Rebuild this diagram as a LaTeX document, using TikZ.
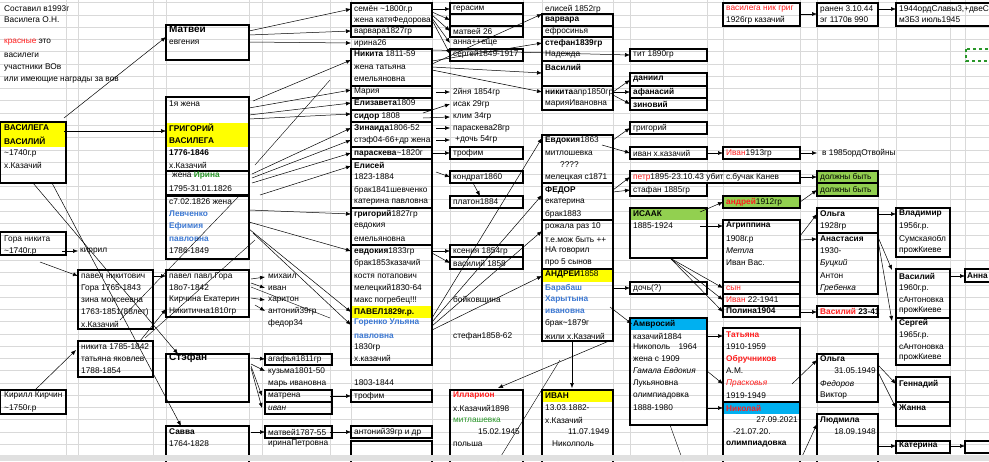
\documentclass[tikz,border=0pt]{standalone}
\usepackage{fontspec}
\setmainfont{Liberation Sans}
\usetikzlibrary{arrows.meta}
\definecolor{xred}{RGB}{255,30,30}
\definecolor{xblue}{RGB}{60,120,210}
\definecolor{xgreen}{RGB}{40,150,40}
\definecolor{xyel}{RGB}{255,255,0}
\definecolor{xlg}{RGB}{146,208,80}
\definecolor{xcy}{RGB}{0,176,240}
\tikzset{
 tx/.style={anchor=west,inner sep=0pt,font=\fontsize{8.3}{9}\selectfont},
 bx/.style={draw=black,line width=1.1pt},
 ar/.style={-{Latex[length=5pt,width=4pt]},line width=0.5pt},
 grid/.style={draw=black!15,line width=0.4pt}
}
\newcommand{\tx}[4][]{\node[tx,#1] at (#2,#3) {#4};}
\begin{document}
\begin{tikzpicture}[x=1pt,y=-1pt]
\useasboundingbox (0,0) rectangle (989,461);
\fill[white] (0,0) rectangle (989,461);
% grid
\foreach \i in {0,...,37} {\draw[grid] (0,2.5+\i*12.27) -- (989,2.5+\i*12.27);}
\foreach \x in {66,78,153,166,249,262,330,351,432,450,523,542,613,630,707,723,800,817,878,896,950,965} {\draw[grid] (\x,0) -- (\x,461);}
% fills
\fill[xyel] (0,122) rectangle (66,147);
\fill[xyel] (166,123) rectangle (249,147);
\fill[xyel] (351,306) rectangle (432,318);
\fill[xyel] (542,269) rectangle (613,282);
\fill[xyel] (542,390) rectangle (613,402);
\fill[xlg] (630,208) rectangle (707,220);
\fill[xlg] (723,196) rectangle (800,208);
\fill[xlg] (817,171) rectangle (878,183);
\fill[xlg] (817,183) rectangle (878,196);
\fill[xcy] (630,318) rectangle (707,330);
\fill[xcy] (723,402) rectangle (800,414);
% boxes
\draw[bx] (0,122) rectangle (66,183);
\draw[bx] (166,25) rectangle (249,60);
\draw[bx] (166,97) rectangle (249,171);
\draw[bx] (166,171) rectangle (249,195);
\draw[bx] (166,196) rectangle (249,259);
\draw[bx] (0,232) rectangle (66,255);
\draw[bx] (78,270) rectangle (153,329);
\draw[bx] (166,270) rectangle (249,317);
\draw[bx] (78,341) rectangle (153,377);
\draw[bx] (0,390) rectangle (66,414);
\draw[bx] (166,354) rectangle (249,402);
\draw[bx] (166,426) rectangle (249,465);
\draw[bx] (265,354) rectangle (332,365);
\draw[bx] (265,390) rectangle (332,402);
\draw[bx] (265,402) rectangle (332,414);
\draw[bx] (265,426) rectangle (332,438);
\draw[bx] (351,390) rectangle (432,402);
\draw[bx] (351,426) rectangle (432,438);
\draw[bx] (351,441) rectangle (432,465);
% col 3
\draw[bx] (351,3) rectangle (432,26);
\draw[bx] (351,26) rectangle (432,37);
\draw[bx] (351,49) rectangle (432,86);
\draw[bx] (351,86) rectangle (432,98);
\draw[bx] (351,98) rectangle (432,110);
\draw[bx] (351,110) rectangle (432,122);
\draw[bx] (351,122) rectangle (432,147);
\draw[bx] (351,147) rectangle (432,159);
\draw[bx] (351,159) rectangle (432,208);
\draw[bx] (351,208) rectangle (432,245);
\draw[bx] (351,245) rectangle (432,365);
% col 4
\draw[bx] (450,3) rectangle (523,14);
\draw[bx] (450,14) rectangle (523,26);
\draw[bx] (450,26) rectangle (523,37);
\draw[bx] (450,49) rectangle (523,61);
\draw[bx] (450,147) rectangle (523,159);
\draw[bx] (450,171) rectangle (523,183);
\draw[bx] (450,196) rectangle (523,208);
\draw[bx] (450,245) rectangle (523,257);
\draw[bx] (450,257) rectangle (523,269);
\draw[bx] (450,390) rectangle (523,465);
% col 5
\draw[bx] (542,14) rectangle (613,26);
\draw[bx] (542,26) rectangle (613,37);
\draw[bx] (542,37) rectangle (613,61);
\draw[bx] (542,61) rectangle (613,86);
\draw[bx] (542,86) rectangle (613,110);
\draw[bx] (542,135) rectangle (613,183);
\draw[bx] (542,183) rectangle (613,220);
\draw[bx] (542,220) rectangle (613,269);
\draw[bx] (542,269) rectangle (613,341);
\draw[bx] (542,390) rectangle (613,465);
% col 6
\draw[bx] (630,49) rectangle (707,61);
\draw[bx] (630,73) rectangle (707,86);
\draw[bx] (630,86) rectangle (707,98);
\draw[bx] (630,98) rectangle (707,110);
\draw[bx] (630,122) rectangle (707,134);
\draw[bx] (630,147) rectangle (707,159);
\draw[bx] (630,171) rectangle (800,183);
\draw[bx] (630,183) rectangle (707,196);
\draw[bx] (630,208) rectangle (707,258);
\draw[bx] (630,282) rectangle (707,294);
\draw[bx] (630,318) rectangle (707,425);
% col 7
\draw[bx] (723,3) rectangle (800,26);
\draw[bx] (723,147) rectangle (800,159);
\draw[bx] (723,196) rectangle (800,208);
\draw[bx] (723,220) rectangle (800,282);
\draw[bx] (723,282) rectangle (800,294);
\draw[bx] (723,294) rectangle (800,306);
\draw[bx] (723,306) rectangle (800,317);
\draw[bx] (723,328) rectangle (800,402);
\draw[bx] (723,402) rectangle (800,465);
% col 8
\draw[bx] (817,3) rectangle (878,26);
\draw[bx] (817,171) rectangle (878,183);
\draw[bx] (817,183) rectangle (878,196);
\draw[bx] (817,208) rectangle (878,233);
\draw[bx] (817,233) rectangle (878,294);
\draw[bx] (817,306) rectangle (878,317);
\draw[bx] (817,354) rectangle (878,402);
\draw[bx] (817,414) rectangle (878,465);
% col 9
\draw[bx] (896,3) rectangle (992,26);
\draw[bx] (896,208) rectangle (950,257);
\draw[bx] (896,269) rectangle (950,318);
\draw[bx] (896,318) rectangle (950,365);
\draw[bx] (896,377) rectangle (950,402);
\draw[bx] (896,402) rectangle (950,426);
\draw[bx] (896,441) rectangle (950,453);
\draw[bx] (965,269) rectangle (992,282);
\draw[bx] (965,441) rectangle (992,453);
\draw[draw=xgreen,dashed,line width=1.2pt] (966,49) rectangle (992,61);
% texts col 1
\tx{4}{9}{Составил в1993г}
\tx{4}{20}{Василега О.Н.}
\tx{4}{42}{\textcolor{xred}{красные} это}
\tx{4}{55}{василеги}
\tx{4}{67}{участники ВОв}
\tx{4}{80}{или имеющие награды за вов}
\tx{4}{128}{\textbf{ВАСИЛЕГА}}
\tx{4}{141}{\textbf{ВАСИЛИЙ}}
\tx{4}{153}{\textasciitilde1740г.р}
\tx{4}{165}{х.Казачий}
\tx{4}{239}{Гора никита}
\tx{4}{251}{\textasciitilde1740г.р}
\tx{80}{251}{киррил}
\tx{4}{396}{Кирилл Кирчин}
\tx{4}{408}{\textasciitilde1750г.р}
\tx{81}{276}{павел никитович}
\tx{81}{288}{Гора 1765-1843}
\tx{81}{300}{зина моисеевна}
\tx{81}{312}{1763-1851(88лет)}
\tx{81}{324}{х.Казачий}
\tx{81}{347}{никита 1785-1842}
\tx{81}{359}{татьяна яковлев}
\tx{81}{371}{1788-1854}
% col 2
\tx[font=\fontsize{10}{10}\selectfont\bfseries]{169}{29}{Матвей}
\tx{169}{42}{евгения}
\tx{169}{104}{1я жена}
\tx{169}{128}{\textbf{ГРИГОРИЙ}}
\tx{169}{141}{\textbf{ВАСИЛЕГА}}
\tx{169}{153}{\textbf{1776-1846}}
\tx{169}{165}{х.Казачий}
\tx{172}{176}{жена \textcolor{xgreen}{\textbf{Ирина}}}
\tx{169}{189}{1795-31.01.1826}
\tx{169}{202}{с7.02.1826 жена}
\tx{169}{214}{\textcolor{xblue}{\textbf{Левченко}}}
\tx{169}{226}{\textcolor{xblue}{\textbf{Ефимия}}}
\tx{169}{239}{\textcolor{xblue}{\textbf{павловна}}}
\tx{169}{251}{1786-1849}
\tx{169}{276}{павел павл.Гора}
\tx{169}{288}{18о7-1842}
\tx{169}{300}{Кирчина Екатерин}
\tx{169}{311}{Никитична1810гр}
\tx[font=\fontsize{10}{10}\selectfont\bfseries]{169}{358}{Стэфан}
\tx{169}{432}{\textbf{Савва}}
\tx{169}{444}{1764-1828}
\tx{268}{276}{михаил}
\tx{268}{288}{иван}
\tx{268}{300}{харитон}
\tx{268}{311}{антоний39гр}
\tx{268}{323}{федор34}
\tx{268}{359}{агафья1811гр}
\tx{268}{371}{кузьма1801-50}
\tx{268}{384}{марь ивановна}
\tx{268}{396}{матрена}
\tx{268}{408}{\itshape иван}
\tx{268}{432}{матвей1787-55}
\tx{268}{444}{иринаПетровна}
% col 3
\tx{354}{9}{семён \textasciitilde1800г.р}
\tx{354}{20}{жена катяФедорова}
\tx{354}{31}{варвара1827гр}
\tx{354}{43}{ирина26}
\tx{354}{54}{\textbf{Никита} 1811-59}
\tx{354}{67}{жена татьяна}
\tx{354}{79}{емельяновна}
\tx{354}{92}{Мария}
\tx{354}{103}{\textbf{Елизавета}1809}
\tx{354}{116}{\textbf{сидор} 1808}
\tx{354}{128}{\textbf{Зинаида}1806-52}
\tx{354}{140}{стэф04-66+др жена}
\tx{354}{153}{\textbf{параскева}\textasciitilde1820г}
\tx{354}{165}{\textbf{Елисей}}
\tx{354}{177}{1823-1884}
\tx{354}{190}{брак1841шевченко}
\tx{354}{202}{катерина павловна}
\tx{354}{214}{\textbf{григорий}1827гр}
\tx{354}{226}{евдокия}
\tx{354}{239}{емельяновна}
\tx{354}{251}{\textbf{евдокия}1833гр}
\tx{354}{263}{брак1853казачий}
\tx{354}{276}{костя потапович}
\tx{354}{288}{мелецкий1830-64}
\tx{354}{300}{макс погребец!!!}
\tx{354}{312}{\textbf{ПАВЕЛ1829г.р.}}
\tx{354}{323}{\textcolor{xblue}{\textbf{Горенко Ульяна}}}
\tx{354}{336}{\textcolor{xblue}{\textbf{павловна}}}
\tx{354}{347}{1830гр}
\tx{354}{358}{х.казачий}
\tx{354}{383}{1803-1844}
\tx{354}{396}{трофим}
\tx{354}{432}{антоний39гр и др}
% col 4
\tx{453}{9}{герасим}
\tx{453}{31}{матвей 26}
\tx{453}{43}{анна++еще}
\tx{453}{54}{сергей1849-1917}
\tx{453}{92}{2йня 1854гр}
\tx{453}{104}{исак 29гр}
\tx{453}{116}{клим 34гр}
\tx{453}{128}{параскева28гр}
\tx{455}{140}{+дочь 54гр}
\tx{453}{153}{трофим}
\tx{453}{177}{кондрат1860}
\tx{453}{202}{платон1884}
\tx{453}{251}{ксения 1854гр}
\tx{453}{263}{василий 1858}
\tx{453}{300}{бойковщина}
\tx{453}{336}{стефан1858-62}
\tx{453}{396}{\textcolor{xred}{\textbf{Илларион}}}
\tx{453}{408}{х.Казачий1898}
\tx{453}{420}{\textcolor{xgreen}{митлашевка}}
\tx{478}{432}{15.02.1945}
\tx{453}{444}{польша}
% col 5
\tx{545}{9}{елисей 1852гр}
\tx{545}{20}{\textbf{варвара}}
\tx{545}{31}{ефросинья}
\tx{545}{43}{\textbf{стефан1839гр}}
\tx{545}{54}{Надежда}
\tx{545}{67}{\textbf{Василий}}
\tx{545}{92}{\textbf{никита}апр1850гр}
\tx{545}{104}{марияИвановна}
\tx{545}{140}{\textbf{Евдокия}1863}
\tx{545}{153}{митлошевка}
\tx{560}{165}{????}
\tx{545}{177}{мелецкая с1871}
\tx{545}{190}{\textbf{ФЕДОР}}
\tx{545}{202}{екатерина}
\tx{545}{214}{брак1883}
\tx{545}{226}{рожала раз 10}
\tx{545}{239}{т.е.мож быть ++}
\tx{545}{251}{НА говорил}
\tx{545}{263}{про 5 сынов}
\tx{545}{274}{\textbf{АНДРЕЙ}1858}
\tx{545}{288}{\textcolor{xblue}{\textbf{Барабаш}}}
\tx{545}{300}{\textcolor{xblue}{\textbf{Харытына}}}
\tx{545}{311}{\textcolor{xblue}{\textbf{ивановна}}}
\tx{545}{323}{брак\textasciitilde1879г}
\tx{545}{336}{жили х.Казачий}
\tx{545}{396}{\textbf{ИВАН}}
\tx{545}{408}{13.03.1882-}
\tx{545}{420}{х.Казачий}
\tx{568}{432}{11.07.1949}
\tx{552}{444}{Николполь}
% col 6
\tx{633}{54}{тит 1890гр}
\tx{633}{79}{\textbf{даниил}}
\tx{633}{92}{\textbf{афанасий}}
\tx{633}{104}{\textbf{зиновий}}
\tx{633}{128}{григорий}
\tx{633}{153}{иван х.казачий}
\tx{633}{177}{\textcolor{xred}{петр}1895-23.10.43 убит с.бучак Канев}
\tx{633}{190}{стафан 1885гр}
\tx{633}{214}{\textbf{ИСААК}}
\tx{633}{226}{1885-1924}
\tx{633}{288}{дочь(?)}
\tx{633}{324}{\textbf{Амвросий}}
\tx{633}{336}{казачий1884}
\tx{633}{347}{Никополь\quad 1964}
\tx{633}{359}{жена с 1909}
\tx{633}{371}{\itshape Гамала Евдокия}
\tx{633}{384}{Лукьяновна}
\tx{633}{396}{олимпиадовка}
\tx{633}{408}{1888-1980}
% col 7
\tx{726}{9}{\textcolor{xred}{василега ник григ}}
\tx{726}{20}{1926гр казачий}
\tx{726}{153}{\textcolor{xred}{Иван}1913гр}
\tx{726}{202}{\textcolor{xred}{\textbf{андрей}}1912гр}
\tx{726}{226}{\textbf{Агриппина}}
\tx{726}{239}{1908г.р}
\tx{726}{251}{\itshape Метла}
\tx{726}{263}{Иван Вас.}
\tx{726}{288}{\textcolor{xred}{сын}}
\tx{726}{300}{\textcolor{xred}{Иван} 22-1941}
\tx{726}{311}{\textbf{Полина1904}}
\tx{726}{335}{\textcolor{xred}{\textbf{Татьяна}}}
\tx{726}{347}{1910-1959}
\tx{726}{359}{\textcolor{xred}{\textbf{Обручников}}}
\tx{726}{371}{А.М.}
\tx{726}{384}{\textcolor{xred}{\itshape Прасковья}}
\tx{726}{396}{1919-1949}
\tx{726}{408}{\textcolor{xred}{\textbf{Николай}}}
\tx[anchor=east]{798}{420}{27.09.2021}
\tx{733}{432}{-21.07.20.}
\tx{726}{444}{\textbf{олимпиадовка}}
% col 8
\tx{820}{9}{ранен 3.10.44}
\tx{820}{20}{эг 1170в 990}
\tx{822}{153}{в 1985ордОтвойны}
\tx{820}{177}{должны быть}
\tx{820}{190}{должны быть}
\tx{820}{214}{\textbf{Ольга}}
\tx{820}{226}{1928гр}
\tx{820}{239}{\textbf{Анастасия}}
\tx{820}{251}{1930-}
\tx{820}{263}{\itshape Буцкий}
\tx{820}{276}{Антон}
\tx{820}{288}{\itshape Гребенка}
\tx{820}{311}{\textcolor{xred}{\textbf{Василий}} \textbf{23-41}}
\tx{820}{359}{\textbf{Ольга}}
\tx[anchor=east]{876}{371}{31.05.1949}
\tx{820}{384}{\itshape Федоров}
\tx{820}{396}{Виктор}
\tx{820}{420}{\textbf{Людмила}}
\tx[anchor=east]{876}{432}{18.09.1948}
% col 9
\tx{899}{9}{1944ордСлавы3,+двеС}
\tx{899}{20}{м3Б3 июль1945}
\tx{899}{214}{\textbf{Владимир}}
\tx{899}{226}{1956г.р.}
\tx{899}{239}{Сумскаяобл}
\tx{899}{251}{прожКиеве}
\tx{899}{276}{\textbf{Василий}}
\tx{899}{288}{1960г.р.}
\tx{899}{300}{сАнтоновка}
\tx{899}{311}{прожКиеве}
\tx{899}{323}{\textbf{Сергей}}
\tx{899}{335}{1965г.р.}
\tx{899}{347}{сАнтоновка}
\tx{899}{358}{прожКиеве}
\tx{899}{384}{\textbf{Геннадий}}
\tx{899}{408}{\textbf{Жанна}}
\tx{899}{446}{\textbf{Катерина}}
\tx{967}{276}{\textbf{Анна}}
% arrows left
\draw[ar] (64,118) -- (166,37);
\draw[ar] (64,131) -- (166,131);
\draw[ar] (33,183) -- (178,354);
\draw[ar] (52,183) -- (181,426);
\draw[ar] (62,251) -- (78,251);
\draw[ar] (40,262) -- (78,276);
\draw[ar] (153,276) -- (166,276);
\draw[ar] (140,341) -- (166,309);
\draw[ar] (35,390) -- (76,350);
\draw (145,338) -- (255,240);
\draw (120,320) -- (240,195);
\draw[ar] (251,279) -- (265,277);
\draw[ar] (251,283) -- (265,288);
\draw[ar] (251,298) -- (265,300);
\draw[ar] (255,305) -- (265,311);
\draw (251,287) -- (330,318);
\draw[ar] (251,358) -- (265,359);
\draw[ar] (251,364) -- (265,371);
\draw[ar] (251,366) -- (262,396);
\draw[ar] (251,368) -- (262,408);
\draw[ar] (251,432) -- (265,432);
\draw[ar] (330,396) -- (351,396);
\draw[ar] (330,432) -- (351,432);
% from Matvei/Grigoriy to col 3
\draw[ar] (249,31) -- (351,9);
\draw[ar] (249,35) -- (351,31);
\draw[ar] (249,42) -- (351,43);
\draw[ar] (253,101) -- (351,60);
\draw[ar] (249,108) -- (351,90);
\draw[ar] (249,115) -- (351,103);
\draw[ar] (249,119) -- (351,114);
\draw[ar] (252,174) -- (351,128);
\draw[ar] (252,178) -- (351,140);
\draw[ar] (252,183) -- (351,153);
\draw[ar] (260,195) -- (351,166);
\draw[ar] (249,210) -- (351,214);
\draw[ar] (249,222) -- (351,251);
\draw[ar] (249,229) -- (351,312);
\draw[ar] (253,233) -- (351,325);
\draw (330,80) -- (255,165);
% col3 -> col4
\draw[ar] (432,9) -- (450,9);
\draw[ar] (432,12) -- (450,20);
\draw[ar] (432,15) -- (450,31);
\draw[ar] (432,18) -- (450,43);
\draw[ar] (432,20) -- (450,54);
\draw[ar] (432,61) -- (542,43);
\draw[ar] (432,50) -- (630,55);
\draw[ar] (432,67) -- (542,73);
\draw[ar] (432,70) -- (542,92);
\draw[ar] (432,64) -- (542,14);
\draw[ar] (436,92) -- (450,92);
\draw[ar] (423,113) -- (450,104);
\draw[ar] (423,118) -- (450,117);
\draw[ar] (436,128) -- (450,128);
\draw[ar] (436,140) -- (450,140);
\draw[ar] (432,153) -- (450,153);
\draw[ar] (436,172) -- (450,177);
\draw[ar] (473,183) -- (480,196);
\draw[ar] (432,251) -- (450,251);
\draw[ar] (432,253) -- (450,263);
\draw[ar] (432,318) -- (542,138);
\draw[ar] (432,322) -- (542,195);
\draw[ar] (432,326) -- (542,231);
\draw[ar] (432,330) -- (542,276);
% col5 -> col6
\draw[ar] (613,92) -- (630,80);
\draw[ar] (613,92) -- (630,92);
\draw[ar] (613,95) -- (630,104);
\draw[ar] (613,140) -- (630,128);
\draw[ar] (602,145) -- (630,153);
\draw[ar] (707,153) -- (723,153);
\draw[ar] (800,153) -- (817,153);
\draw[ar] (613,190) -- (630,177);
\draw[ar] (613,192) -- (630,190);
\draw[ar] (800,177) -- (817,177);
\draw[ar] (700,212) -- (723,202);
\draw[ar] (800,202) -- (817,190);
\draw[ar] (700,226) -- (723,226);
\draw[ar] (800,236) -- (817,214);
\draw[ar] (800,240) -- (817,239);
\draw[ar] (878,214) -- (896,214);
\draw[ar] (878,237) -- (892,270);
\draw[ar] (878,240) -- (892,321);
\draw[ar] (950,276) -- (965,276);
\draw[ar] (670,258) -- (723,288);
\draw[ar] (670,258) -- (723,300);
\draw[ar] (670,258) -- (723,312);
\draw[ar] (800,312) -- (817,312);
\draw[ar] (613,288) -- (630,288);
\draw[ar] (610,307) -- (632,324);
\draw[ar] (609,341) -- (498,388);
\draw[ar] (572,341) -- (572,388);
\draw[ar] (707,336) -- (723,336);
\draw[ar] (707,371) -- (723,384);
\draw[ar] (707,408) -- (723,408);
\draw[ar] (792,384) -- (817,360);
\draw[ar] (878,365) -- (896,384);
\draw[ar] (878,372) -- (896,408);
\draw[ar] (800,461) -- (817,424);
\draw[ar] (878,446) -- (896,446);
\draw[ar] (950,446) -- (965,446);
\draw (670,425) -- (683,461);
\draw (498,461) -- (560,360);
% top right
\draw[ar] (800,14) -- (817,14);
\draw[ar] (878,9) -- (896,9);
% bottom bar
\fill[black!12] (0,455) rectangle (989,461);
\end{tikzpicture}
\end{document}
